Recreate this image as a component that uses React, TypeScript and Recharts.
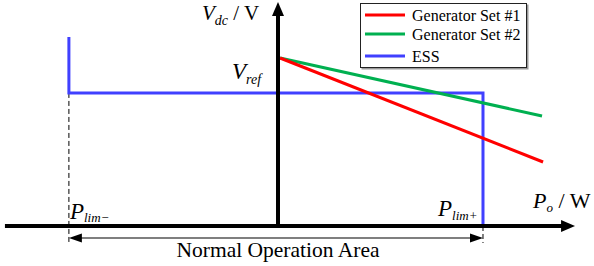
import React from 'react';
import { ComposedChart, Line, Scatter, XAxis, YAxis, Legend } from 'recharts';

// Normalised units: P / P_lim+  and  V / V_ref
const pLimMinus = -1.02;
const pLimPlus = 1.0;
const vRef = 1.0;
const essLevel = 0.792;
const essTop = 1.125;
const pAxisEnd = 1.449;
const pAxisStart = -1.332;
const vAxisEnd = 1.333;
const spanLevel = -0.0714;
const dashBottom = -0.101;

const gen1 = [
  { p: 0.01, v: vRef },
  { p: 1.293, v: 0.381 },
];
const gen2 = [
  { p: 0.01, v: vRef },
  { p: 1.288, v: 0.655 },
];
const ess = [
  { p: pLimMinus, v: essTop },
  { p: pLimMinus, v: essLevel },
  { p: pLimPlus, v: essLevel },
  { p: pLimPlus, v: 0 },
];

const xAxisLine = [
  { p: pAxisStart, v: 0 },
  { p: 1.39, v: 0 },
];
const yAxisLine = [
  { p: 0, v: 0 },
  { p: 0, v: 1.28 },
];
const dashLeft = [
  { p: pLimMinus, v: essLevel },
  { p: pLimMinus, v: dashBottom },
];
const dashRight = [
  { p: pLimPlus, v: 0 },
  { p: pLimPlus, v: dashBottom },
];
const spanLine = [
  { p: pLimMinus + 0.03, v: spanLevel },
  { p: pLimPlus - 0.03, v: spanLevel },
];

const arrowHeads = [
  { p: pAxisEnd, v: 0, kind: 'right-big' },
  { p: 0, v: vAxisEnd, kind: 'up-big' },
  { p: pLimMinus, v: spanLevel, kind: 'left-small' },
  { p: pLimPlus, v: spanLevel, kind: 'right-small' },
];

const labels = [
  { p: 0, v: vAxisEnd, id: 'vdc' },
  { p: 0, v: vRef, id: 'vref' },
  { p: pLimMinus, v: 0, id: 'plimm' },
  { p: pLimPlus, v: 0, id: 'plimp' },
  { p: pAxisEnd, v: 0, id: 'po' },
  { p: 0, v: spanLevel, id: 'area' },
];

const seriesNames = ['Generator Set #1', 'Generator Set #2', 'ESS'];
const seriesColors = ['#ff0000', '#00b050', '#4040ff'];

const FONT = "'Liberation Serif', 'Times New Roman', serif";

const ArrowShape = (props: any) => {
  const { cx, cy, payload } = props;
  let pts = '';
  switch (payload.kind) {
    case 'right-big':
      pts = `${cx},${cy} ${cx - 14},${cy - 6} ${cx - 14},${cy + 6}`;
      break;
    case 'up-big':
      pts = `${cx},${cy} ${cx - 6},${cy + 14} ${cx + 6},${cy + 14}`;
      break;
    case 'left-small':
      pts = `${cx},${cy} ${cx + 13},${cy - 4.5} ${cx + 13},${cy + 4.5}`;
      break;
    default:
      pts = `${cx},${cy} ${cx - 13},${cy - 4.5} ${cx - 13},${cy + 4.5}`;
  }
  return <polygon points={pts} fill="#000" />;
};

const LabelShape = (props: any) => {
  const { cx, cy, payload } = props;
  const st = { fontFamily: FONT, fill: '#000' } as any;
  switch (payload.id) {
    case 'vdc':
      return (
        <text x={cx - 76} y={cy + 18} fontSize={21} style={st}>
          <tspan fontStyle="italic">V</tspan>
          <tspan fontStyle="italic" fontSize={14} dy={5}>dc</tspan>
          <tspan dy={-5}> / V</tspan>
        </text>
      );
    case 'vref':
      return (
        <text x={cx - 46} y={cy + 21} fontSize={23} style={st}>
          <tspan fontStyle="italic">V</tspan>
          <tspan fontStyle="italic" fontSize={14} dy={5}>ref</tspan>
        </text>
      );
    case 'plimm':
      return (
        <text x={cx + 1} y={cy - 7} fontSize={23} style={st}>
          <tspan fontStyle="italic">P</tspan>
          <tspan fontStyle="italic" fontSize={13} dy={3}>lim−</tspan>
        </text>
      );
    case 'plimp':
      return (
        <text x={cx - 45} y={cy - 10} fontSize={23} style={st}>
          <tspan fontStyle="italic">P</tspan>
          <tspan fontStyle="italic" fontSize={13} dy={4}>lim+</tspan>
        </text>
      );
    case 'po':
      return (
        <text x={cx - 42} y={cy - 18} fontSize={22} style={st}>
          <tspan fontStyle="italic">P</tspan>
          <tspan fontStyle="italic" fontSize={13} dy={4}>o</tspan>
          <tspan dy={-4}> / W</tspan>
        </text>
      );
    default:
      return (
        <text x={cx} y={cy + 19} fontSize={21.5} textAnchor="middle" style={st}>
          Normal Operation Area
        </text>
      );
  }
};

const LegendBox = () => (
  <div
    style={{
      position: 'absolute',
      left: 0,
      top: 0,
      width: 167,
      height: 65,
      boxSizing: 'border-box',
      border: '1px solid #222',
      boxShadow: '1.5px 1.5px 0 #999',
      background: '#fff',
    }}
  >
    <svg width={165} height={63} style={{ display: 'block' }}>
      {seriesNames.map((n, i) => {
        const ly = [11, 30, 52][i];
        return (
          <g key={n}>
            <line x1={4} x2={44} y1={ly} y2={ly} stroke={seriesColors[i]} strokeWidth={3} />
            <text x={51} y={ly + 5.5} fontSize={16} style={{ fontFamily: FONT, fill: '#000' }}>
              {n}
            </text>
          </g>
        );
      })}
    </svg>
  </div>
);

export default function App() {
  return (
    <div style={{ position: 'absolute', left: 0, top: 0, width: 594, height: 266, background: '#fff' }}>
      <ComposedChart width={594} height={266} margin={{ top: 0, right: 0, bottom: 0, left: 0 }}>
        <XAxis dataKey="p" type="number" domain={[-1.3561, 1.5415]} allowDataOverflow hide />
        <YAxis dataKey="v" type="number" domain={[-0.2381, 1.3452]} allowDataOverflow hide />
        <Legend
          content={<LegendBox />}
          wrapperStyle={{ position: 'absolute', left: 360, top: 3, width: 0, height: 0, overflow: 'visible' }}
        />
        <Line data={dashLeft} dataKey="v" stroke="#000" strokeWidth={1} strokeDasharray="5 3" dot={false} activeDot={false} isAnimationActive={false} legendType="none" />
        <Line data={dashRight} dataKey="v" stroke="#000" strokeWidth={1} strokeDasharray="5 3" dot={false} activeDot={false} isAnimationActive={false} legendType="none" />
        <Line data={spanLine} dataKey="v" stroke="#000" strokeWidth={1.2} dot={false} activeDot={false} isAnimationActive={false} legendType="none" />
        <Line data={ess} dataKey="v" name={seriesNames[2]} stroke={seriesColors[2]} strokeWidth={3} dot={false} activeDot={false} isAnimationActive={false} />
        <Line data={gen2} dataKey="v" name={seriesNames[1]} stroke={seriesColors[1]} strokeWidth={3} dot={false} activeDot={false} isAnimationActive={false} />
        <Line data={gen1} dataKey="v" name={seriesNames[0]} stroke={seriesColors[0]} strokeWidth={3} dot={false} activeDot={false} isAnimationActive={false} />
        <Line data={xAxisLine} dataKey="v" stroke="#000" strokeWidth={4} dot={false} activeDot={false} isAnimationActive={false} legendType="none" />
        <Line data={yAxisLine} dataKey="v" stroke="#000" strokeWidth={4} dot={false} activeDot={false} isAnimationActive={false} legendType="none" />
        <Scatter data={arrowHeads} dataKey="v" shape={<ArrowShape />} isAnimationActive={false} legendType="none" />
        <Scatter data={labels} dataKey="v" shape={<LabelShape />} isAnimationActive={false} legendType="none" />
      </ComposedChart>
    </div>
  );
}
